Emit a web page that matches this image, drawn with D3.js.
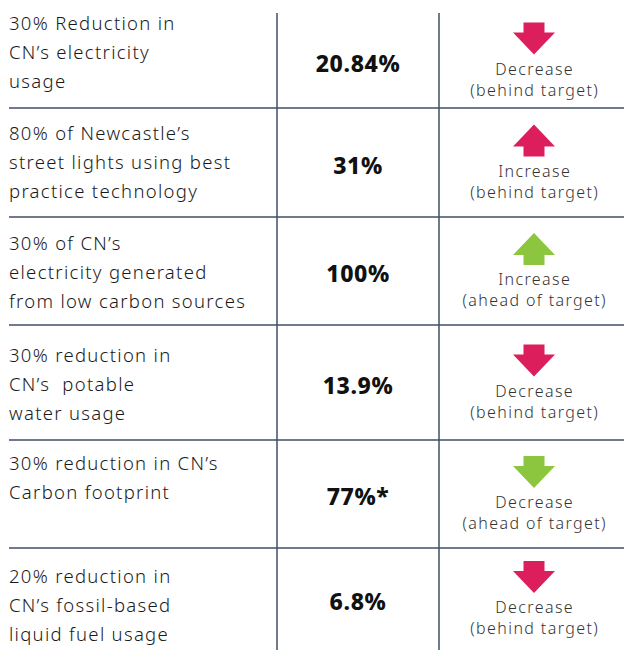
<!DOCTYPE html>
<html>
<head>
<meta charset="utf-8">
<script src="https://cdn.jsdelivr.net/npm/d3@7"></script>
<style>
  html, body { margin: 0; padding: 0; background: #fff; }
  svg { display: block; }
  text { white-space: pre; }
</style>
</head>
<body>
<div id="chart"></div>
<script>
// ---- Data ----
const targets = [
  ["30% Reduction in", "CN\u2019s electricity", "usage"],
  ["80% of Newcastle\u2019s", "street lights using best", "practice technology"],
  ["30% of CN\u2019s", "electricity generated", "from low carbon sources"],
  ["30% reduction in", "CN\u2019s  potable", "water usage"],
  ["30% reduction in CN\u2019s", "Carbon footprint"],
  ["20% reduction in", "CN\u2019s fossil-based", "liquid fuel usage"]
];
const values = ["20.84%", "31%", "100%", "13.9%", "77%*", "6.8%"];
const directions = ["down", "up", "up", "down", "down", "down"];
const changes = ["Decrease", "Increase", "Increase", "Decrease", "Decrease", "Decrease"];
const statuses = ["(behind target)", "(behind target)", "(ahead of target)", "(behind target)", "(ahead of target)", "(behind target)"];
const onTrack = [false, false, true, false, true, false];

// ---- Layout ----
const W = 624, H = 650;
const rowEdges = [13, 108, 217, 325, 440, 548, 650];
const colX = [9, 277, 439, 624];
const lineColor = "#3f4f66";
const pink = "#dc1f5c", green = "#8cc63f";
const font = "'Noto Sans', 'Open Sans', sans-serif";

const svg = d3.select("#chart").append("svg").attr("width", W).attr("height", H);

const idx = d3.range(values.length);
const rowTop = d3.scaleOrdinal().domain(idx).range(rowEdges.slice(0, -1));
const rowBot = d3.scaleOrdinal().domain(idx).range(rowEdges.slice(1));
const rowMid = i => (rowTop(i) + rowBot(i)) / 2;
const colMid = c => (colX[c] + colX[c + 1]) / 2;
const colour = d3.scaleOrdinal().domain([true, false]).range([green, pink]);

// grid lines
svg.selectAll("line.h").data(idx.slice(0, -1)).join("line")
  .attr("x1", colX[0]).attr("x2", W)
  .attr("y1", i => rowBot(i)).attr("y2", i => rowBot(i))
  .attr("stroke", lineColor).attr("stroke-width", 1.5);
svg.selectAll("line.v").data([colX[1], colX[2]]).join("line")
  .attr("x1", d => d).attr("x2", d => d)
  .attr("y1", rowEdges[0]).attr("y2", H)
  .attr("stroke", lineColor).attr("stroke-width", 1.5);

// target labels
const lineH = 29.2;
const labelOffset = [17, 32, 33, 37, 30, 35];
idx.forEach(i => {
  svg.append("text")
    .attr("x", colX[0])
    .attr("font-family", font).attr("font-size", 18.5).attr("font-weight", 300)
    .attr("letter-spacing", 1.3).attr("fill", "#1a1a1a")
    .selectAll("tspan").data(targets[i]).join("tspan")
    .attr("x", colX[0])
    .attr("y", (d, k) => rowTop(i) + labelOffset[i] + k * lineH)
    .text(d => d);
});

// values
svg.selectAll("text.val").data(idx).join("text")
  .attr("class", "val")
  .attr("x", colMid(1))
  .attr("y", i => rowMid(i) + 11)
  .attr("text-anchor", "middle")
  .attr("font-family", font).attr("font-weight", 800).attr("font-size", 23)
  .attr("letter-spacing", 0.6)
  .attr("fill", "#111")
  .text(i => values[i]);

// arrows
function arrowPath(cx, top, dir) {
  const w = 42, sw = 21, sh = 10, hh = 22, h = sh + hh;
  const p = d3.path();
  if (dir === "down") {
    p.moveTo(cx - sw / 2, top);
    p.lineTo(cx + sw / 2, top);
    p.lineTo(cx + sw / 2, top + sh);
    p.lineTo(cx + w / 2, top + sh);
    p.lineTo(cx, top + h);
    p.lineTo(cx - w / 2, top + sh);
    p.lineTo(cx - sw / 2, top + sh);
  } else {
    p.moveTo(cx, top);
    p.lineTo(cx + w / 2, top + hh);
    p.lineTo(cx + sw / 2, top + hh);
    p.lineTo(cx + sw / 2, top + h);
    p.lineTo(cx - sw / 2, top + h);
    p.lineTo(cx - sw / 2, top + hh);
    p.lineTo(cx - w / 2, top + hh);
  }
  p.closePath();
  return p.toString();
}
const arrowX = 534;
svg.selectAll("path.arrow").data(idx).join("path")
  .attr("d", i => arrowPath(arrowX, rowMid(i) - 38, directions[i]))
  .attr("fill", i => colour(onTrack[i]));

svg.selectAll("text.chg").data(idx).join("text")
  .attr("x", arrowX + 0.7).attr("y", i => rowMid(i) + 14)
  .attr("text-anchor", "middle")
  .attr("font-family", font).attr("font-size", 16).attr("font-weight", 300)
  .attr("letter-spacing", 1.4).attr("fill", "#333")
  .text(i => changes[i]);
svg.selectAll("text.st").data(idx).join("text")
  .attr("x", arrowX + 0.7).attr("y", i => rowMid(i) + 35)
  .attr("text-anchor", "middle")
  .attr("font-family", font).attr("font-size", 16).attr("font-weight", 300)
  .attr("letter-spacing", 1.4).attr("fill", "#333")
  .text(i => statuses[i]);
</script>
</body>
</html>
